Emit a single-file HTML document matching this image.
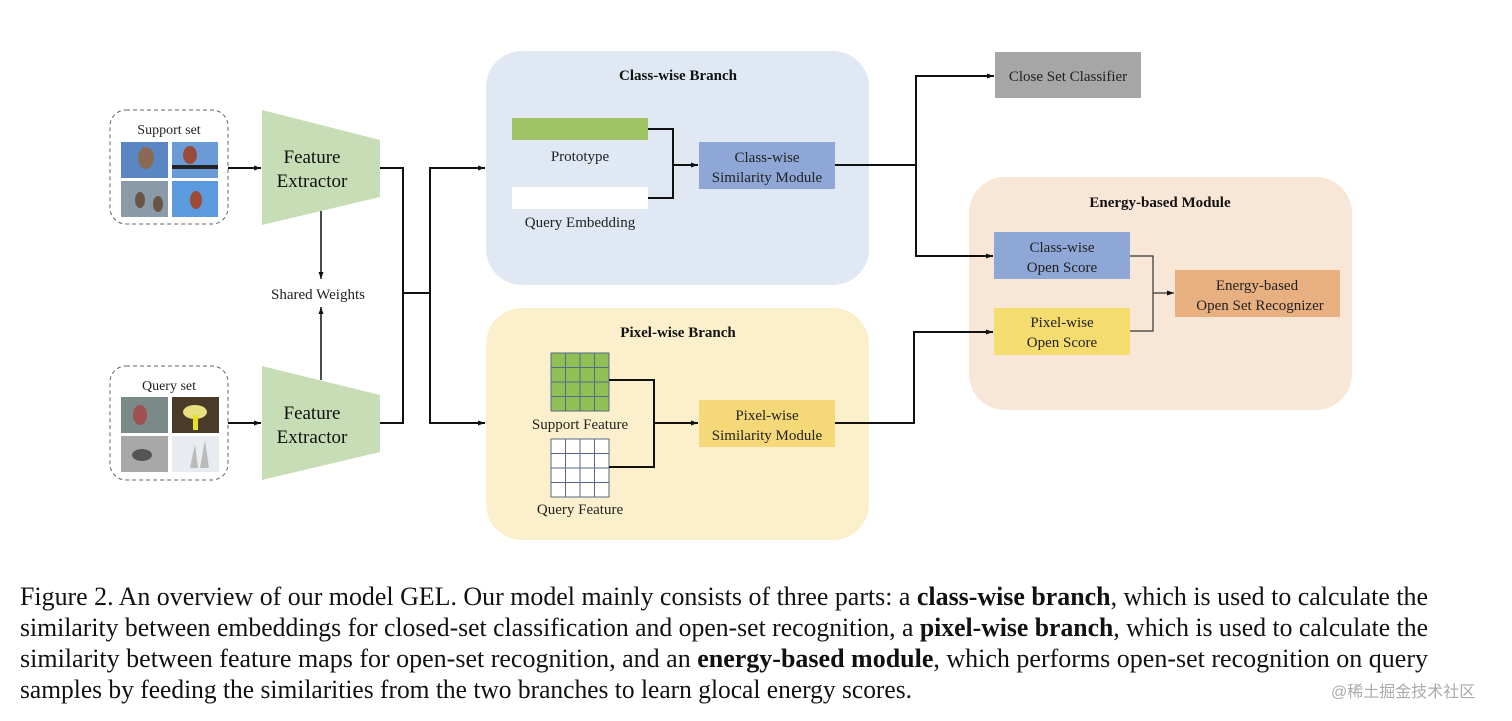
<!DOCTYPE html>
<html><head><meta charset="utf-8"><style>
html,body{margin:0;padding:0;background:#fff;}
svg{display:block;font-family:"Liberation Serif",serif;}
</style></head><body>
<svg width="1512" height="721" viewBox="0 0 1512 721" xmlns="http://www.w3.org/2000/svg">
<defs>
<marker id="ah" markerWidth="8" markerHeight="8" refX="7" refY="4" orient="auto" markerUnits="userSpaceOnUse">
<path d="M0,1.5 L7,4 L0,6.5 z" fill="#111"/></marker>
</defs>
<!-- Support set -->
<rect x="110" y="110" width="118" height="114" rx="16" fill="none" stroke="#666" stroke-dasharray="4,3"/>
<text x="169" y="134" font-size="14" text-anchor="middle" fill="#222">Support set</text>
<rect x="121" y="142" width="47" height="36" fill="#5b86c4"/><ellipse cx="146" cy="158" rx="8" ry="11" fill="#8a6a55"/>
<rect x="172" y="142" width="46" height="36" fill="#6a9bd6"/><ellipse cx="190" cy="155" rx="7" ry="9" fill="#9a4a3a"/><rect x="172" y="165" width="46" height="4" fill="#222"/>
<rect x="121" y="181" width="47" height="36" fill="#8a9aa8"/><ellipse cx="140" cy="200" rx="5" ry="8" fill="#6a5545"/><ellipse cx="158" cy="204" rx="5" ry="8" fill="#6a5545"/>
<rect x="172" y="181" width="46" height="36" fill="#5c9ae0"/><ellipse cx="196" cy="200" rx="6" ry="9" fill="#a04a38"/>
<!-- Query set -->
<rect x="110" y="366" width="118" height="114" rx="16" fill="none" stroke="#666" stroke-dasharray="4,3"/>
<text x="169" y="390" font-size="14" text-anchor="middle" fill="#222">Query set</text>
<rect x="121" y="397" width="47" height="36" fill="#7a8a88"/><ellipse cx="140" cy="415" rx="7" ry="10" fill="#a05050"/>
<rect x="172" y="397" width="47" height="36" fill="#4a3a28"/><ellipse cx="195" cy="412" rx="12" ry="7" fill="#e8e080"/><rect x="193" y="415" width="5" height="15" fill="#e8e020"/>
<rect x="121" y="436" width="47" height="36" fill="#a8a8a8"/><ellipse cx="142" cy="455" rx="10" ry="6" fill="#555"/>
<rect x="172" y="436" width="47" height="36" fill="#e8ecf0"/><path d="M190,468 L195,444 L198,468 Z M200,468 L205,440 L209,468 Z" fill="#bbb"/>
<!-- Feature extractors -->
<polygon points="262,110 380,140 380,197 262,225" fill="#c7ddb5"/>
<text x="312" y="163" font-size="19" text-anchor="middle" fill="#111">Feature</text>
<text x="312" y="187" font-size="19" text-anchor="middle" fill="#111">Extractor</text>
<polygon points="262,366 380,395 380,452 262,480" fill="#c7ddb5"/>
<text x="312" y="419" font-size="19" text-anchor="middle" fill="#111">Feature</text>
<text x="312" y="443" font-size="19" text-anchor="middle" fill="#111">Extractor</text>
<g stroke="#111" stroke-width="2" fill="none">
<line x1="228" y1="168" x2="261" y2="168" marker-end="url(#ah)"/>
<line x1="228" y1="423" x2="261" y2="423" marker-end="url(#ah)"/>
<line x1="321" y1="211" x2="321" y2="279" stroke-width="1.5" marker-end="url(#ah)"/>
<line x1="321" y1="380" x2="321" y2="307" stroke-width="1.5" marker-end="url(#ah)"/>
<polyline points="380,168 403,168 403,423 380,423"/>
<line x1="403" y1="293" x2="430" y2="293"/>
<line x1="430" y1="167" x2="430" y2="424"/>
<line x1="430" y1="168" x2="485" y2="168" marker-end="url(#ah)"/>
<line x1="430" y1="423" x2="485" y2="423" marker-end="url(#ah)"/>
</g>
<text x="318" y="299" font-size="15" text-anchor="middle" fill="#222">Shared Weights</text>
<!-- Class-wise branch -->
<rect x="486" y="51" width="383" height="234" rx="36" fill="#dfe8f3"/>
<text x="678" y="80" font-size="15" font-weight="bold" text-anchor="middle" fill="#111">Class-wise Branch</text>
<rect x="512" y="118" width="136" height="22" fill="#9fc464"/>
<text x="580" y="161" font-size="15" text-anchor="middle" fill="#222">Prototype</text>
<rect x="512" y="187" width="136" height="22" fill="#fff"/>
<text x="580" y="227" font-size="15" text-anchor="middle" fill="#222">Query Embedding</text>
<rect x="699" y="142" width="136" height="47" fill="#8fa7d6"/>
<text x="767" y="162" font-size="15" text-anchor="middle" fill="#222">Class-wise</text>
<text x="767" y="182" font-size="15" text-anchor="middle" fill="#222">Similarity Module</text>
<!-- Pixel-wise branch -->
<rect x="486" y="308" width="383" height="232" rx="36" fill="#fcf0cc"/>
<text x="678" y="337" font-size="15" font-weight="bold" text-anchor="middle" fill="#111">Pixel-wise Branch</text>
<g stroke="#556a88" stroke-width="1">
<rect x="551" y="353" width="58" height="58" fill="#8fbf55"/>
<path d="M565.5,353 V411 M580,353 V411 M594.5,353 V411 M551,367.5 H609 M551,382 H609 M551,396.5 H609"/>
<rect x="551" y="439" width="58" height="58" fill="#fff"/>
<path d="M565.5,439 V497 M580,439 V497 M594.5,439 V497 M551,453.5 H609 M551,468 H609 M551,482.5 H609"/>
</g>
<text x="580" y="429" font-size="15" text-anchor="middle" fill="#222">Support Feature</text>
<text x="580" y="514" font-size="15" text-anchor="middle" fill="#222">Query Feature</text>
<rect x="699" y="400" width="136" height="47" fill="#f5d978"/>
<text x="767" y="420" font-size="15" text-anchor="middle" fill="#222">Pixel-wise</text>
<text x="767" y="440" font-size="15" text-anchor="middle" fill="#222">Similarity Module</text>
<!-- Close set classifier -->
<rect x="995" y="52" width="146" height="46" fill="#a6a6a6"/>
<text x="1068" y="81" font-size="15" text-anchor="middle" fill="#222">Close Set Classifier</text>
<!-- Energy module -->
<rect x="969" y="177" width="383" height="233" rx="36" fill="#f8e6d6"/>
<text x="1160" y="207" font-size="15" font-weight="bold" text-anchor="middle" fill="#111">Energy-based Module</text>
<rect x="994" y="232" width="136" height="47" fill="#8fa7d6"/>
<text x="1062" y="252" font-size="15" text-anchor="middle" fill="#222">Class-wise</text>
<text x="1062" y="272" font-size="15" text-anchor="middle" fill="#222">Open Score</text>
<rect x="994" y="308" width="136" height="47" fill="#f5dc6f"/>
<text x="1062" y="327" font-size="15" text-anchor="middle" fill="#222">Pixel-wise</text>
<text x="1062" y="347" font-size="15" text-anchor="middle" fill="#222">Open Score</text>
<rect x="1175" y="270" width="165" height="47" fill="#e8b080"/>
<text x="1257" y="290" font-size="15" text-anchor="middle" fill="#222">Energy-based</text>
<text x="1260" y="310" font-size="15" text-anchor="middle" fill="#222">Open Set Recognizer</text>
<g stroke="#111" stroke-width="2" fill="none">
<polyline points="648,129 673,129 673,198 648,198"/>
<line x1="673" y1="165" x2="698" y2="165" marker-end="url(#ah)"/>
<polyline points="609,380 654,380 654,467 609,467"/>
<line x1="654" y1="423" x2="698" y2="423" marker-end="url(#ah)"/>
<line x1="835" y1="165" x2="916" y2="165"/>
<line x1="916" y1="76" x2="916" y2="257"/>
<line x1="915" y1="76" x2="994" y2="76" marker-end="url(#ah)"/>
<line x1="915" y1="256" x2="993" y2="256" marker-end="url(#ah)"/>
<polyline points="835,423 914,423 914,332 993,332" marker-end="url(#ah)"/>
</g>
<g stroke="#333" stroke-width="1.2" fill="none">
<polyline points="1130,256 1153,256 1153,331 1130,331"/>
<line x1="1153" y1="293" x2="1174" y2="293" marker-end="url(#ah)"/>
</g>
<!-- Caption -->
<g font-size="26" fill="#111">
<text x="20" y="605" textLength="1408" lengthAdjust="spacingAndGlyphs">Figure 2.  An overview of our model GEL. Our model mainly consists of three parts: a <tspan font-weight="bold">class-wise branch</tspan>, which is used to calculate the</text>
<text x="20" y="636" textLength="1408" lengthAdjust="spacingAndGlyphs">similarity between embeddings for closed-set classification and open-set recognition, a <tspan font-weight="bold">pixel-wise branch</tspan>, which is used to calculate the</text>
<text x="20" y="667" textLength="1408" lengthAdjust="spacingAndGlyphs">similarity between feature maps for open-set recognition, and an <tspan font-weight="bold">energy-based module</tspan>, which performs open-set recognition on query</text>
<text x="20" y="698" textLength="892" lengthAdjust="spacingAndGlyphs">samples by feeding the similarities from the two branches to learn glocal energy scores.</text>
</g>
<text x="1331" y="697" font-size="16" fill="#aaa" font-family="'Liberation Sans','Noto Sans CJK SC',sans-serif">@稀土掘金技术社区</text>
</svg>
</body></html>
